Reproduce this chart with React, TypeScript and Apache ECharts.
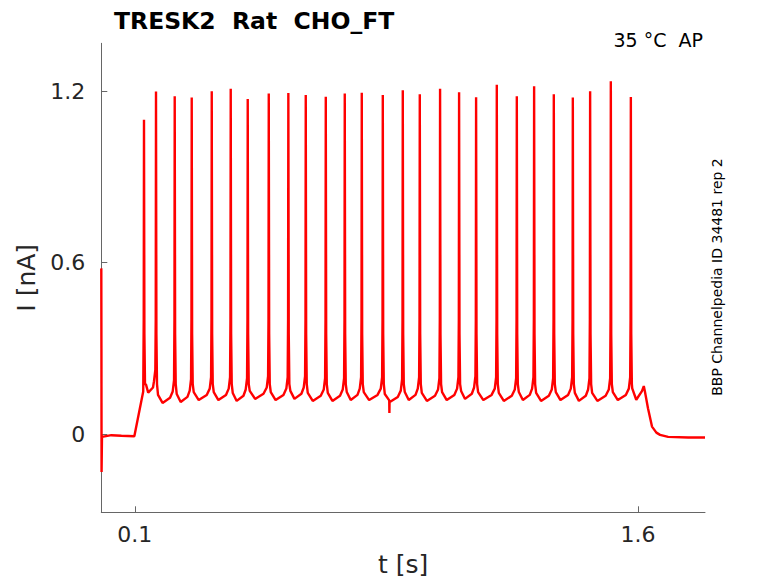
import React, { useEffect, useRef } from "react";
import * as echarts from "echarts";

// ---- data ----
const spikeTimes = [
  0.1273, 0.1631, 0.2189, 0.2696, 0.3293, 0.3859, 0.4366, 0.4993, 0.5577,
  0.6096, 0.6693, 0.7259, 0.7766, 0.8393, 0.8989, 0.9496, 1.0101, 1.0668,
  1.1175, 1.1792, 1.2389, 1.2905, 1.3492, 1.4059, 1.4575, 1.5192, 1.5789,
];
const spikePeaks = [
  1.1, 1.199, 1.183, 1.178, 1.2, 1.209, 1.173, 1.192, 1.194, 1.187, 1.181,
  1.192, 1.195, 1.187, 1.204, 1.19, 1.209, 1.197, 1.179, 1.223, 1.183, 1.218,
  1.19, 1.178, 1.2, 1.235, 1.18,
];
// trough level of the current between consecutive spikes
const interspikeTroughs = [
  0.145, 0.109, 0.112, 0.119, 0.119, 0.116, 0.123, 0.119, 0.123, 0.116, 0.116,
  0.119, 0.119, 0.112, 0.119, 0.116, 0.119, 0.123, 0.119, 0.116, 0.119, 0.116,
  0.119, 0.116, 0.116, 0.119,
];
// start of the recording: capacitive transient, baseline, ramp up
const onsetT = [0, 0.0004, 0.0008, 0.002, 0.03, 0.06, 0.0985, 0.125];
const onsetI = [0.58, 0.3, -0.133, -0.01, -0.004, -0.006, -0.008, 0.149];
// after last spike: end of the step and decay to baseline
const offsetT = [1.583, 1.595, 1.612, 1.6175, 1.621, 1.63, 1.642, 1.655, 1.666, 1.69, 1.75, 1.8];
const offsetI = [0.16, 0.12, 0.15, 0.168, 0.148, 0.09, 0.026, 0.005, -0.003, -0.01, -0.012, -0.012];
// single artefact glitch in the trace
const glitchT = [0.8585, 0.859, 0.8595];
const glitchI = [0.118, 0.074, 0.118];

const xTicks = [0.1, 1.6];
const yTicks = [0, 0.6, 1.2];

function buildTrace(): number[][] {
  const pts: number[][] = [];
  onsetT.forEach((t, i) => pts.push([t, onsetI[i]]));
  for (let i = 0; i < spikeTimes.length; i++) {
    const tS = spikeTimes[i];
    pts.push([tS - 0.0008, 0.4]);
    pts.push([tS, spikePeaks[i]]);
    pts.push([tS + 0.0012, 0.35]);
    pts.push([tS + 0.003, 0.175]);
    if (i < spikeTimes.length - 1) {
      const tN = spikeTimes[i + 1];
      const d = tN - tS;
      const tr = interspikeTroughs[i];
      pts.push([tS + 0.006, tr + 0.028]);
      pts.push([tS + 0.35 * d, tr]);
      pts.push([tS + 0.75 * d, tr + 0.018]);
      pts.push([tN - 0.006, tr + 0.04]);
      pts.push([tN - 0.002, tr + 0.08]);
    }
  }
  offsetT.forEach((t, i) => pts.push([t, offsetI[i]]));
  glitchT.forEach((t, i) => pts.push([t, glitchI[i]]));
  pts.sort((a, b) => a[0] - b[0]);
  return pts;
}

const FONT = "DejaVu Sans";

export default function App() {
  const ref = useRef<HTMLDivElement>(null);
  useEffect(() => {
    if (!ref.current) return;
    const chart = echarts.init(ref.current, null, { renderer: "svg" });
    chart.setOption({
      animation: false,
      backgroundColor: "#ffffff",
      title: {
        text: "TRESK2  Rat  CHO_FT",
        left: 109,
        top: 4,
        textStyle: { fontFamily: FONT, fontSize: 23.5, fontWeight: "bold", color: "#000" },
      },
      grid: { left: 101.3, top: 43.3, right: 73, bottom: 70.7 },
      xAxis: {
        type: "value",
        min: 0,
        max: 1.8,
        name: "t [s]",
        nameLocation: "middle",
        nameGap: 40,
        nameTextStyle: { fontFamily: FONT, fontSize: 25, color: "#262626" },
        axisLine: { show: true, onZero: false, lineStyle: { color: "#666", width: 1 } },
        axisTick: { show: true, inside: true, length: 6, customValues: xTicks, lineStyle: { color: "#666" } },
        axisLabel: {
          customValues: xTicks,
          margin: 11,
          fontFamily: FONT,
          fontSize: 22,
          color: "#262626",
          formatter: (v: number) => String(v),
        },
        splitLine: { show: false },
      },
      yAxis: {
        type: "value",
        min: -0.274,
        max: 1.368,
        name: "I [nA]",
        nameLocation: "middle",
        nameGap: 58,
        nameTextStyle: { fontFamily: FONT, fontSize: 25, color: "#262626" },
        axisLine: { show: true, onZero: false, lineStyle: { color: "#666", width: 1 } },
        axisTick: { show: true, inside: true, length: 6, customValues: yTicks, lineStyle: { color: "#666" } },
        axisLabel: {
          customValues: yTicks,
          margin: 16,
          fontFamily: FONT,
          fontSize: 22,
          color: "#262626",
          formatter: (v: number) => String(v),
        },
        splitLine: { show: false },
      },
      graphic: [
        {
          type: "text",
          x: 703,
          y: 40,
          style: {
            text: "35 °C  AP",
            textAlign: "right",
            textVerticalAlign: "middle",
            fontFamily: FONT,
            fontSize: 19,
            fill: "#000",
          },
        },
        {
          type: "text",
          x: 717,
          y: 277,
          rotation: Math.PI / 2,
          style: {
            text: "BBP Channelpedia ID 34481 rep 2",
            textAlign: "center",
            textVerticalAlign: "middle",
            fontFamily: FONT,
            fontSize: 14,
            fill: "#000",
          },
        },
      ],
      series: [
        {
          type: "line",
          data: buildTrace(),
          showSymbol: false,
          symbol: "none",
          lineStyle: { color: "#ff0000", width: 2.4 },
          clip: true,
        },
      ],
    });
    return () => chart.dispose();
  }, []);
  return (
    <div
      ref={ref}
      style={{ position: "fixed", left: 0, top: 0, width: 778, height: 583 }}
    />
  );
}
